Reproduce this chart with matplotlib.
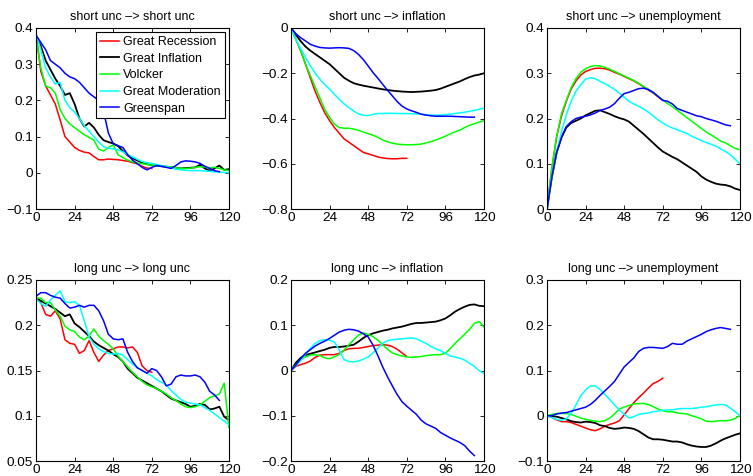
import numpy as np
import matplotlib
matplotlib.use("Agg")
import matplotlib.pyplot as plt
from matplotlib.ticker import FuncFormatter

plt.rcParams['font.family'] = ['Liberation Sans', 'DejaVu Sans']

months = list(range(0, 121, 3))
series_names = ["Great Recession", "Great Inflation", "Volcker", "Great Moderation", "Greenspan"]
series_colors = ["#ff0000", "#000000", "#00ff00", "#00ffff", "#0000ff"]
titles = ["short unc –> short unc", "short unc –> inflation", "short unc –> unemployment",
          "long unc –> long unc", "long unc –> inflation", "long unc –> unemployment"]
xticks = [0, 24, 48, 72, 96, 120]

# Panel 1: short unc -> short unc
ss_red = [0.385, 0.28, 0.24, 0.215, 0.19, 0.146, 0.1, 0.085, 0.07, 0.062, 0.057, 0.055, 0.045, 0.036, 0.036,
          0.038, 0.037, 0.036, 0.034, 0.032, 0.028, 0.025, 0.018, 0.013, 0.012]
ss_black = [0.38, 0.35, 0.31, 0.285, 0.26, 0.24, 0.215, 0.22, 0.19, 0.15, 0.128, 0.138, 0.125, 0.105, 0.09,
            0.085, 0.081, 0.074, 0.06, 0.048, 0.04, 0.034, 0.028, 0.024, 0.021, 0.02, 0.018, 0.017, 0.016,
            0.014, 0.012, 0.013, 0.014, 0.015, 0.022, 0.012, 0.006, 0.012, 0.02, 0.008, 0.01]
ss_green = [0.375, 0.29, 0.24, 0.235, 0.22, 0.175, 0.15, 0.135, 0.125, 0.115, 0.105, 0.098, 0.09, 0.065, 0.06,
            0.07, 0.077, 0.05, 0.042, 0.035, 0.03, 0.027, 0.025, 0.023, 0.021, 0.02, 0.019, 0.017, 0.016,
            0.014, 0.012, 0.012, 0.013, 0.015, 0.017, 0.016, 0.014, 0.015, 0.012, 0.008, 0.006]
ss_cyan = [0.385, 0.34, 0.29, 0.265, 0.245, 0.25, 0.2, 0.18, 0.168, 0.15, 0.13, 0.115, 0.1, 0.085, 0.072,
           0.068, 0.066, 0.064, 0.058, 0.05, 0.044, 0.037, 0.031, 0.028, 0.026, 0.023, 0.02, 0.017, 0.014,
           0.01, 0.008, 0.007, 0.006, 0.006, 0.006, 0.005, 0.004, 0.003, 0.002, 0.001, 0.0]
ss_blue = [0.38, 0.36, 0.34, 0.31, 0.30, 0.29, 0.275, 0.265, 0.26, 0.25, 0.235, 0.22, 0.21, 0.20, 0.17, 0.11,
           0.08, 0.075, 0.07, 0.05, 0.035, 0.025, 0.015, 0.008, 0.015, 0.02, 0.018, 0.015, 0.012, 0.02,
           0.03, 0.033, 0.032, 0.03, 0.026, 0.018, 0.012, 0.006, 0.003]

# Panel 2: short unc -> inflation
si_red = [0, -0.05, -0.1, -0.16, -0.22, -0.28, -0.33, -0.375, -0.41, -0.44, -0.465, -0.49, -0.505, -0.52,
          -0.535, -0.55, -0.556, -0.563, -0.57, -0.574, -0.577, -0.578, -0.578, -0.576, -0.576]
si_black = [0, -0.03, -0.058, -0.082, -0.1, -0.115, -0.13, -0.145, -0.16, -0.18, -0.2, -0.22, -0.233, -0.244,
            -0.25, -0.255, -0.259, -0.263, -0.267, -0.271, -0.274, -0.277, -0.279, -0.281, -0.282, -0.283,
            -0.282, -0.281, -0.279, -0.277, -0.274, -0.268, -0.26, -0.252, -0.244, -0.236, -0.226, -0.217,
            -0.21, -0.206, -0.2]
si_green = [0, -0.05, -0.1, -0.16, -0.21, -0.26, -0.31, -0.36, -0.395, -0.425, -0.44, -0.443, -0.443, -0.447,
            -0.452, -0.46, -0.467, -0.474, -0.483, -0.495, -0.503, -0.509, -0.513, -0.515, -0.516, -0.516,
            -0.515, -0.513, -0.508, -0.502, -0.495, -0.487, -0.478, -0.468, -0.459, -0.451, -0.44, -0.43,
            -0.423, -0.416, -0.41]
si_cyan = [0, -0.05, -0.09, -0.13, -0.167, -0.2, -0.227, -0.25, -0.27, -0.293, -0.315, -0.335, -0.352, -0.367,
           -0.38, -0.386, -0.387, -0.382, -0.378, -0.378, -0.377, -0.377, -0.378, -0.378, -0.378, -0.379,
           -0.38, -0.381, -0.383, -0.385, -0.385, -0.385, -0.383, -0.381, -0.378, -0.375, -0.372, -0.368,
           -0.364, -0.359, -0.354]
si_blue = [0, -0.025, -0.043, -0.057, -0.072, -0.08, -0.086, -0.088, -0.089, -0.088, -0.087, -0.088, -0.09,
           -0.1, -0.117, -0.14, -0.168, -0.197, -0.222, -0.249, -0.275, -0.3, -0.325, -0.345, -0.358, -0.366,
           -0.373, -0.381, -0.385, -0.388, -0.39, -0.39, -0.39, -0.39, -0.391, -0.392, -0.393, -0.394, -0.394]

# Panel 3: short unc -> unemployment
su_red = [0, 0.09, 0.16, 0.205, 0.238, 0.265, 0.283, 0.296, 0.304, 0.308, 0.311, 0.311, 0.31, 0.307, 0.302,
          0.298, 0.293, 0.288, 0.283, 0.277, 0.27, 0.263, 0.256, 0.248, 0.24]
su_black = [0, 0.07, 0.125, 0.158, 0.18, 0.19, 0.195, 0.2, 0.207, 0.212, 0.217, 0.218, 0.214, 0.21, 0.205,
            0.201, 0.198, 0.193, 0.184, 0.175, 0.166, 0.156, 0.146, 0.136, 0.127, 0.121, 0.115, 0.11, 0.103,
            0.096, 0.089, 0.082, 0.072, 0.065, 0.06, 0.056, 0.054, 0.053, 0.05, 0.045, 0.042]
su_green = [0, 0.09, 0.16, 0.21, 0.24, 0.268, 0.288, 0.302, 0.31, 0.315, 0.317, 0.316, 0.313, 0.309, 0.304,
            0.299, 0.294, 0.289, 0.284, 0.278, 0.271, 0.265, 0.257, 0.249, 0.241, 0.233, 0.226, 0.218, 0.21,
            0.202, 0.194, 0.186, 0.178, 0.17, 0.164, 0.157, 0.15, 0.146, 0.14, 0.134, 0.131]
su_cyan = [0, 0.07, 0.125, 0.17, 0.208, 0.238, 0.26, 0.275, 0.287, 0.29, 0.288, 0.282, 0.277, 0.271, 0.264,
           0.256, 0.247, 0.238, 0.232, 0.227, 0.221, 0.214, 0.206, 0.197, 0.19, 0.184, 0.179, 0.175, 0.171,
           0.167, 0.161, 0.156, 0.151, 0.147, 0.143, 0.139, 0.133, 0.127, 0.12, 0.11, 0.1]
su_blue = [0, 0.07, 0.125, 0.158, 0.182, 0.193, 0.2, 0.203, 0.205, 0.208, 0.212, 0.218, 0.221, 0.225, 0.233,
           0.245, 0.255, 0.258, 0.262, 0.266, 0.267, 0.264, 0.258, 0.249, 0.24, 0.238, 0.232, 0.222, 0.218,
           0.214, 0.21, 0.206, 0.204, 0.2, 0.197, 0.194, 0.19, 0.186, 0.184]

# Panel 4: long unc -> long unc
ll_red = [0.23, 0.225, 0.212, 0.21, 0.216, 0.207, 0.184, 0.18, 0.179, 0.169, 0.172, 0.183, 0.17, 0.16, 0.167,
          0.172, 0.174, 0.176, 0.176, 0.175, 0.176, 0.17, 0.155, 0.15, 0.148]
ll_black = [0.23, 0.227, 0.224, 0.221, 0.218, 0.214, 0.21, 0.212, 0.202, 0.198, 0.193, 0.188, 0.182, 0.178,
            0.175, 0.172, 0.168, 0.165, 0.16, 0.152, 0.147, 0.142, 0.139, 0.136, 0.133, 0.13, 0.127, 0.123,
            0.119, 0.117, 0.115, 0.113, 0.11, 0.111, 0.113, 0.112, 0.107, 0.108, 0.11, 0.099, 0.095]
ll_green = [0.23, 0.23, 0.225, 0.225, 0.217, 0.21, 0.199, 0.195, 0.193, 0.187, 0.184, 0.188, 0.196, 0.188,
            0.183, 0.179, 0.174, 0.166, 0.16, 0.154, 0.148, 0.143, 0.138, 0.134, 0.132, 0.13, 0.127, 0.124,
            0.12, 0.117, 0.113, 0.11, 0.109, 0.11, 0.112, 0.116, 0.12, 0.122, 0.124, 0.136, 0.087]
ll_cyan = [0.229, 0.224, 0.221, 0.228, 0.233, 0.238, 0.226, 0.225, 0.226, 0.222, 0.205, 0.187, 0.179, 0.174,
           0.171, 0.169, 0.168, 0.169, 0.167, 0.162, 0.157, 0.153, 0.15, 0.147, 0.144, 0.14, 0.137, 0.134,
           0.128, 0.123, 0.118, 0.115, 0.114, 0.113, 0.112, 0.109, 0.106, 0.102, 0.098, 0.094, 0.09]
ll_blue = [0.232, 0.236, 0.236, 0.233, 0.231, 0.23, 0.224, 0.219, 0.22, 0.222, 0.22, 0.222, 0.222, 0.216,
           0.205, 0.19, 0.185, 0.184, 0.185, 0.17, 0.16, 0.153, 0.15, 0.147, 0.152, 0.15, 0.143, 0.133, 0.135,
           0.143, 0.145, 0.144, 0.144, 0.145, 0.143, 0.137, 0.127, 0.123, 0.117]

# Panel 5: long unc -> inflation
li_red = [0, 0.009, 0.013, 0.016, 0.021, 0.029, 0.034, 0.035, 0.035, 0.035, 0.038, 0.044, 0.048, 0.049, 0.049,
          0.051, 0.053, 0.055, 0.056, 0.057, 0.056, 0.053, 0.047, 0.039, 0.031]
li_black = [0, 0.017, 0.028, 0.034, 0.037, 0.04, 0.043, 0.046, 0.05, 0.052, 0.052, 0.053, 0.055, 0.057, 0.064,
            0.072, 0.078, 0.082, 0.085, 0.088, 0.09, 0.093, 0.095, 0.097, 0.1, 0.103, 0.105, 0.105, 0.106,
            0.107, 0.108, 0.111, 0.115, 0.122, 0.13, 0.136, 0.141, 0.145, 0.146, 0.143, 0.142]
li_green = [0, 0.013, 0.024, 0.03, 0.034, 0.035, 0.033, 0.028, 0.026, 0.03, 0.036, 0.045, 0.057, 0.068, 0.078,
            0.083, 0.08, 0.075, 0.067, 0.057, 0.047, 0.039, 0.035, 0.032, 0.03, 0.029, 0.03, 0.031, 0.033,
            0.034, 0.035, 0.035, 0.038, 0.048, 0.06, 0.07, 0.08, 0.091, 0.104, 0.108, 0.096]
li_cyan = [0, 0.01, 0.022, 0.036, 0.049, 0.06, 0.066, 0.068, 0.067, 0.063, 0.045, 0.024, 0.02, 0.019, 0.021,
           0.025, 0.03, 0.039, 0.049, 0.06, 0.066, 0.068, 0.069, 0.07, 0.071, 0.072, 0.07, 0.065, 0.06, 0.053,
           0.048, 0.044, 0.038, 0.032, 0.03, 0.027, 0.023, 0.016, 0.009, 0.0, -0.007]
li_blue = [0, 0.012, 0.026, 0.038, 0.046, 0.054, 0.06, 0.065, 0.071, 0.078, 0.085, 0.089, 0.091, 0.09, 0.087,
           0.081, 0.074, 0.056, 0.033, 0.008, -0.014, -0.034, -0.053, -0.069, -0.079, -0.088, -0.097, -0.11,
           -0.118, -0.123, -0.128, -0.137, -0.143, -0.149, -0.154, -0.159, -0.166, -0.178, -0.188]

# Panel 6: long unc -> unemployment
lu_red = [0, -0.004, -0.009, -0.013, -0.013, -0.015, -0.019, -0.023, -0.027, -0.031, -0.033, -0.029, -0.023,
          -0.019, -0.016, -0.011, 0.002, 0.016, 0.029, 0.04, 0.05, 0.061, 0.071, 0.076, 0.083]
lu_black = [0, -0.001, -0.002, -0.005, -0.008, -0.012, -0.014, -0.015, -0.013, -0.014, -0.016, -0.021, -0.023,
            -0.027, -0.029, -0.028, -0.026, -0.027, -0.029, -0.034, -0.041, -0.048, -0.052, -0.052, -0.053,
            -0.055, -0.057, -0.057, -0.059, -0.063, -0.066, -0.068, -0.069, -0.069, -0.066, -0.061, -0.055,
            -0.05, -0.046, -0.042, -0.039]
lu_green = [0, 0.003, 0.005, 0.005, 0.005, 0.003, -0.001, -0.005, -0.008, -0.01, -0.012, -0.013, -0.011,
            -0.005, 0.004, 0.015, 0.019, 0.023, 0.026, 0.027, 0.027, 0.025, 0.02, 0.015, 0.011, 0.009, 0.009,
            0.006, 0.005, 0.004, 0.0, -0.003, -0.007, -0.012, -0.013, -0.012, -0.011, -0.011, -0.01, -0.006,
            0.001]
lu_cyan = [0, -0.004, -0.008, -0.01, -0.007, 0.005, 0.024, 0.044, 0.057, 0.066, 0.066, 0.058, 0.047, 0.036,
           0.024, 0.013, 0.003, -0.005, -0.002, 0.003, 0.005, 0.006, 0.009, 0.01, 0.012, 0.013, 0.013, 0.015,
           0.016, 0.016, 0.016, 0.017, 0.019, 0.02, 0.022, 0.024, 0.025, 0.024, 0.017, 0.009, 0.0]
lu_blue = [0, 0.0, 0.004, 0.006, 0.007, 0.01, 0.013, 0.016, 0.019, 0.025, 0.034, 0.045, 0.055, 0.065, 0.076,
           0.092, 0.108, 0.118, 0.128, 0.142, 0.149, 0.151, 0.151, 0.15, 0.149, 0.153, 0.16, 0.158, 0.158,
           0.165, 0.17, 0.175, 0.18, 0.186, 0.19, 0.193, 0.195, 0.193, 0.191]

panels = [
    ([ss_red, ss_black, ss_green, ss_cyan, ss_blue], (-0.1, 0.4), [-0.1, 0, 0.1, 0.2, 0.3, 0.4]),
    ([si_red, si_black, si_green, si_cyan, si_blue], (-0.8, 0.0), [-0.8, -0.6, -0.4, -0.2, 0]),
    ([su_red, su_black, su_green, su_cyan, su_blue], (0.0, 0.4), [0, 0.1, 0.2, 0.3, 0.4]),
    ([ll_red, ll_black, ll_green, ll_cyan, ll_blue], (0.05, 0.25), [0.05, 0.1, 0.15, 0.2, 0.25]),
    ([li_red, li_black, li_green, li_cyan, li_blue], (-0.2, 0.2), [-0.2, -0.1, 0, 0.1, 0.2]),
    ([lu_red, lu_black, lu_green, lu_cyan, lu_blue], (-0.1, 0.3), [-0.1, 0, 0.1, 0.2, 0.3]),
]

W, H = 753, 476
fig = plt.figure(figsize=(W / 100, H / 100), dpi=100)

lefts = [36, 291, 547]
tops = [28, 280]
aw, ah = 193, 181


def fmt(v, pos):
    s = "{:g}".format(round(v, 4))
    return s.replace("-", "\u2212")


for i, (data, ylim, yticks) in enumerate(panels):
    r, c = divmod(i, 3)
    ax = fig.add_axes([lefts[c] / W, 1 - (tops[r] + ah) / H, aw / W, ah / H])
    for k, (vals, name, col) in enumerate(zip(data, series_names, series_colors)):
        xs = months[:len(vals)]
        lw = 1.3 if col == "#000000" else 1.1
        ax.plot(xs, vals, color=col, lw=lw, label=name)
    ax.set_xlim(0, 120)
    ax.set_ylim(*ylim)
    ax.set_xticks(xticks)
    ax.set_yticks(yticks)
    ax.yaxis.set_major_formatter(FuncFormatter(fmt))
    ax.tick_params(direction="in", top=True, right=True, length=3, width=0.6,
                   labelsize=9.7, pad=2)
    for sp in ax.spines.values():
        sp.set_linewidth(0.8)
    ax.set_title(titles[i], fontsize=9, pad=6)
    if i == 0:
        leg = ax.legend(loc="upper right", fontsize=9, frameon=True, fancybox=False,
                        edgecolor="black", framealpha=1, borderaxespad=0.35,
                        handlelength=1.5, labelspacing=0.37, borderpad=0.3,
                        handletextpad=0.35)
        leg.get_frame().set_linewidth(0.8)

fig.savefig("out.png", dpi=100)
